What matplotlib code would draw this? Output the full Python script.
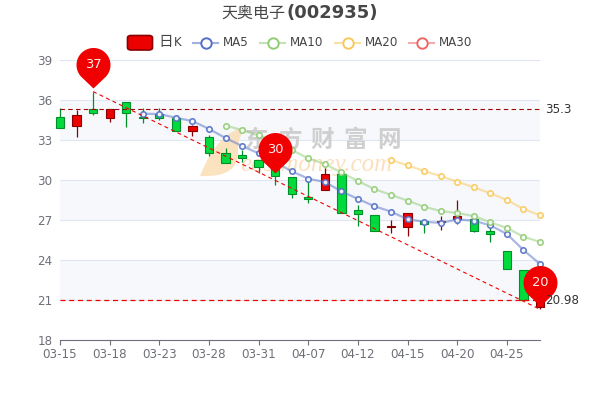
import numpy as np
import matplotlib
matplotlib.use('Agg')
import matplotlib.pyplot as plt
from matplotlib.path import Path
from matplotlib.patches import FancyBboxPatch, PathPatch
from matplotlib.lines import Line2D

plt.rcParams['font.family'] = ['DejaVu Sans', 'Noto Sans CJK SC']

# open, close, low, high per day
opens = [34.75,34.03,35.33,34.65,35.85,34.72,34.95,34.62,33.65,33.2,32.0,31.85,31.5,30.97,30.2,28.7,29.27,30.43,27.77,27.4,26.5,26.5,26.93,26.83,27.07,27.05,26.15,24.65,23.23,20.5]
closes = [33.88,34.9,35.0,35.33,35.0,34.68,34.67,33.65,34.03,32.05,31.3,31.67,31.0,30.3,28.97,28.55,30.43,27.55,27.43,26.2,26.55,27.5,26.7,26.95,27.33,26.17,25.93,23.3,20.98,21.5]
lows = [33.88,33.25,34.9,34.38,34.0,34.3,34.5,33.65,33.33,31.82,31.25,31.37,30.5,29.63,28.67,28.3,29.27,27.5,26.57,26.15,26.05,25.82,26.05,26.25,26.7,26.12,25.33,23.3,20.98,20.3]
highs = [35.4,35.25,36.63,35.33,35.85,35.37,35.37,34.8,34.15,33.37,32.37,32.25,31.5,31.0,30.2,30.25,30.87,30.7,28.1,27.4,27.0,27.55,27.1,27.33,28.5,27.05,26.5,24.65,23.23,21.5]
dates = ['03-15','03-18','03-23','03-28','03-31','04-07','04-12','04-15','04-20','04-25']

ma5 = [34.97,34.95,34.67,34.42,33.83,33.15,32.55,32.0,31.35,30.65,30.1,29.85,29.15,28.58,28.03,27.63,27.05,26.87,26.78,27.03,26.95,26.6,25.95,24.75,23.7]
ma10 = [34.08,33.75,33.35,32.9,32.25,31.62,31.2,30.57,29.92,29.32,28.88,28.45,28.0,27.67,27.52,27.3,26.83,26.4,25.75,25.35]
ma20 = [31.5,31.1,30.67,30.3,29.87,29.45,29.0,28.5,27.83,27.35]

avg_line = 35.3
min_line = 20.98
pin_days = [2, 13, 29]
pin_tips = [36.88, 30.5, 20.55]
pin_labels = ['37', '30', '20']

UP = '#ec0000'
UP_EDGE = '#8a0000'
DOWN = '#00da3c'
DOWN_EDGE = '#008f28'
TXT = '#6e7079'
px = 0.72  # one pixel in points at dpi 100


def fx(x):
    return x/600


def fy(y):
    return 1 - y/400


fig = plt.figure(figsize=(6, 4), dpi=100)
ax = fig.add_axes([60/600, 60/400, 480/600, 280/400])
ax.set_xlim(0, 29)
ax.set_ylim(18, 39)
ax.set_yticks(range(18, 40, 3))
ax.set_xticks(range(0, 30, 3))
ax.set_xticklabels(dates)
ax.tick_params(axis='y', length=0, labelsize=8.6, labelcolor=TXT, pad=5.5)
ax.tick_params(axis='x', length=3.6, width=0.8, color=TXT, labelsize=8.6, labelcolor=TXT, pad=2.5)
for s in ['top', 'left', 'right']:
    ax.spines[s].set_visible(False)
ax.spines['bottom'].set_color(TXT)
ax.grid(axis='y', color='#e0e6f1', lw=0.8)
ax.set_axisbelow(True)
for lo, hi in [(21, 24), (27, 30), (33, 36)]:
    ax.axhspan(lo, hi, color='#f6f8fc', lw=0, zorder=0)

# watermark, under the candles
moon_xy = [(200, 176), (240, 178), (238, 150), (238, 135), (247, 127), (218, 130), (200, 176), (200, 176)]
moon_codes = [Path.MOVETO, Path.CURVE3, Path.CURVE3, Path.CURVE3, Path.CURVE3, Path.CURVE3, Path.CURVE3, Path.CLOSEPOLY]
moon_xy = [(fx(x), fy(y)) for x, y in moon_xy]
ax.add_patch(PathPatch(Path(moon_xy, moon_codes), transform=fig.transFigure, fc='#fbdcb0', ec='none',
                       alpha=0.8, zorder=1, clip_on=False))
for ch, x in zip('东方财富网', [256, 290, 322, 355, 389]):
    ax.text(fx(x), fy(140), ch, transform=fig.transFigure, fontsize=17, fontweight='bold',
            family=['Noto Sans CJK SC'], color='#cfcfcf', ha='center', va='center', zorder=1)
ax.text(fx(316), fy(165), 'eastmoney.com', transform=fig.transFigure, fontsize=18, style='italic',
        family=['Liberation Serif'], color='#fbe0bd', ha='center', va='center', zorder=1)

# candles
for i in range(len(opens)):
    up = closes[i] > opens[i]
    face = UP if up else DOWN
    edge = UP_EDGE if up else DOWN_EDGE
    ax.plot([i, i], [lows[i], highs[i]], color=edge, lw=0.9, zorder=2, solid_capstyle='butt', clip_on=False)
    ax.bar(i, abs(closes[i]-opens[i]), bottom=min(opens[i], closes[i]), width=0.5,
           facecolor=face, edgecolor=edge, lw=0.8, zorder=3, clip_on=False)


# moving averages
def draw_ma(vals, col):
    xs = np.arange(30 - len(vals), 30)
    ax.plot(xs, vals, color=col, lw=1.6, zorder=4, alpha=0.5, clip_on=False)
    ax.plot(xs, vals, ls='none', marker='o', ms=3.9, mfc='white', mec=col, mew=1.2,
            zorder=5, alpha=0.9, clip_on=False)


draw_ma(ma5, '#5470c6')
draw_ma(ma10, '#91cc75')
draw_ma(ma20, '#fac858')

# mark lines
ax.axhline(avg_line, color='#a00000', lw=0.8, ls=(0, (4, 3)), zorder=6)
ax.axhline(min_line, color='#f00000', lw=0.9, ls=(0, (4, 3)), zorder=6)
ax.plot([2, 29], [highs[2], lows[29]], color='#f00000', lw=0.8, ls=(0, (3.5, 3)), zorder=6, clip_on=False)
ax.annotate(f'{avg_line}', (29, avg_line), xytext=(3.6, 0), textcoords='offset points', va='center',
            fontsize=8.6, color='#333333', annotation_clip=False)
ax.annotate(f'{min_line}', (29, min_line), xytext=(3.6, 0), textcoords='offset points', va='center',
            fontsize=8.6, color='#333333', annotation_clip=False, zorder=9)

# pin marker, origin at the tip
R = 17
cy = 23.5
a = np.degrees(np.arcsin(R/cy))
t = np.radians(np.linspace(-a, 180 + a, 60))
verts = np.vstack([[[0, 0]], np.c_[R*np.cos(t), cy + R*np.sin(t)], [[0, 0]]])
pin = Path(verts, closed=True)
pin_size = 2*np.abs(verts).max()*px
for i, v, lab in zip(pin_days, pin_tips, pin_labels):
    ax.plot([i], [v], marker=pin, ms=pin_size, mfc='#f00000', mec='none', zorder=8, clip_on=False)
    ax.annotate(lab, (i, v), xytext=(0, cy*px), textcoords='offset points', ha='center', va='center',
                fontsize=9.4, color='#ffecec', zorder=9, annotation_clip=False)

# title
fig.text(fx(285), fy(13), '天奥电子', fontsize=11.5, family=['Noto Sans CJK SC'], color='#464646',
         ha='right', va='center')
fig.text(fx(286), fy(13), '(002935)', fontsize=13, fontweight='bold', color='#464646', ha='left', va='center')

# legend
fig.add_artist(FancyBboxPatch((fx(127.5), fy(50)), 25/600, 14.5/400, boxstyle='round,pad=0,rounding_size=0.006',
                              transform=fig.transFigure, fc=UP, ec=UP_EDGE, lw=1.2))
fig.text(fx(158), fy(42), '日', fontsize=10.5, family=['Noto Sans CJK SC'], color='#444444', va='center')
fig.text(fx(174), fy(43), 'K', fontsize=8.6, color='#444444', va='center')
leg_labels = ['MA5', 'MA10', 'MA20', 'MA30']
leg_x = [193, 260, 335, 409]
leg_cols = ['#5470c6', '#91cc75', '#fac858', '#ee6666']
for lab, x0, col in zip(leg_labels, leg_x, leg_cols):
    fig.add_artist(Line2D([fx(x0), fx(x0+25)], [fy(43), fy(43)], color=col, lw=1.5, alpha=0.55, transform=fig.transFigure))
    fig.add_artist(Line2D([fx(x0+12.5)], [fy(43)], marker='o', ms=7.5, mfc='white', mec=col, mew=1.4, transform=fig.transFigure))
    fig.text(fx(x0+30), fy(43), lab, fontsize=8.6, color='#444444', va='center')

fig.savefig('out.png', dpi=100)
